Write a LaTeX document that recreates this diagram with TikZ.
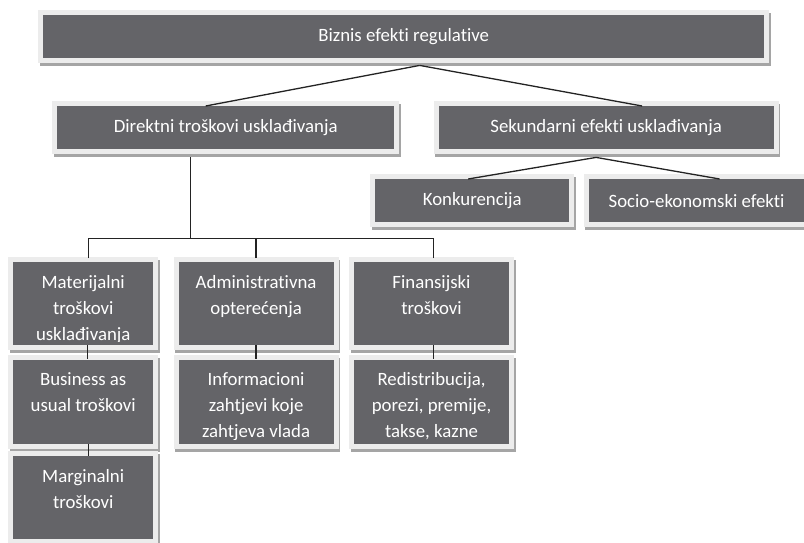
\documentclass[tikz,border=0pt]{standalone}
\usepackage{fontspec}
\setmainfont{Carlito}[Ligatures=NoCommon]
\usetikzlibrary{positioning,calc}

\definecolor{cellgray}{RGB}{100,100,104}
\definecolor{framegray}{RGB}{236,236,236}
\definecolor{shadegray}{RGB}{165,165,165}
\definecolor{linegray}{RGB}{35,35,35}

\begin{document}
\begin{tikzpicture}[x=1pt, y=-1pt, font=\fontsize{18.8}{26}\selectfont,
	tile/.style={fill=cellgray, text=white, inner sep=0pt, minimum height=43pt, anchor=north west,
		preaction={draw=shadegray, line width=10pt, transform canvas={xshift=1.5pt, yshift=-3pt}},
		preaction={draw=framegray, line width=10pt}},
	subcell/.style={tile, minimum width=140pt, minimum height=83pt,
		path picture={
			\clip (path picture bounding box.north west) rectangle ([yshift=4pt]path picture bounding box.south east);
			\node[text=white, align=center, anchor=north, inner sep=0pt,
			minimum width=0pt, minimum height=0pt]
			at ([yshift=-13pt]path picture bounding box.north) {#1};}},
	wide subcell/.style={subcell={#1}, minimum width=155pt},
	link/.style={draw=linegray, line width=1.3pt}]

	\useasboundingbox (0,0) rectangle (804,542);

	% upper levels
	\node[tile, minimum width=721pt] (top) at (43,15) {Biznis efekti regulative};
	\node[tile, minimum width=337pt] (dir) at (57,106) {Direktni troškovi usklađivanja};
	\node[tile, minimum width=335pt] (sek) [right=44pt of dir] {Sekundarni efekti usklađivanja};
	\node[tile, minimum width=194pt] (konk) at (375,179) {Konkurencija};
	\node[tile, minimum width=216pt] (socio) [right=19pt of konk] {Socio-ekonomski efekti};

	% direct costs
	\node[subcell={Materijalni\\troškovi\\usklađivanja}] (mat) at (13,262) {};
	\node[wide subcell={Administrativna\\opterećenja}] (adm) [right=25pt of mat] {};
	\node[wide subcell={Finansijski\\troškovi}] (fin) [right=20pt of adm] {};
	\node[subcell={Business as\\usual troškovi}, minimum height=84pt] (bau) [below=14pt of mat] {};
	\node[wide subcell={Informacioni\\zahtjevi koje\\zahtjeva vlada}, minimum height=84pt] (info) [below=14pt of adm] {};
	\node[wide subcell={Redistribucija,\\porezi, premije,\\takse, kazne}, minimum height=84pt] (redis) [below=14pt of fin] {};
	\node[subcell={Marginalni\\troškovi}] (marg) [below=12pt of bau] {};

	\coordinate (topj) at ([xshift=16pt, yshift=-7pt]top.south);
	\coordinate (sekj) at ([xshift=-10pt, yshift=-8pt]sek.south);
	\coordinate (dirj) at ([xshift=-35pt, yshift=-8pt]dir.south);
	\coordinate (rail) at ([yshift=-81pt]dirj);

	\draw[link] (topj) -- ([xshift=-20pt]dir.north);
	\draw[link] (topj) -- ([xshift=36pt]sek.north);
	\draw[link] (sekj) -- ([xshift=-4pt]konk.north);
	\draw[link] (sekj) -- ([xshift=23pt]socio.north);

	\draw[link] (dirj) -- (rail);
	\draw[link, shorten <=4pt] ([xshift=5pt]mat.north) |- (rail);
	\draw[link, shorten <=4pt] (adm.north) |- (rail);
	\draw[link, shorten <=4pt] ([xshift=2pt]fin.north) |- (rail);

	\draw[link] ([xshift=4pt]mat.south) -- ([xshift=4pt]bau.north);
	\draw[link] (adm.south) -- (info.north);
	\draw[link] ([xshift=2pt]fin.south) -- ([xshift=2pt]redis.north);
	\draw[link] ([xshift=5pt]bau.south) -- ([xshift=5pt]marg.north);

\end{tikzpicture}
\end{document}
